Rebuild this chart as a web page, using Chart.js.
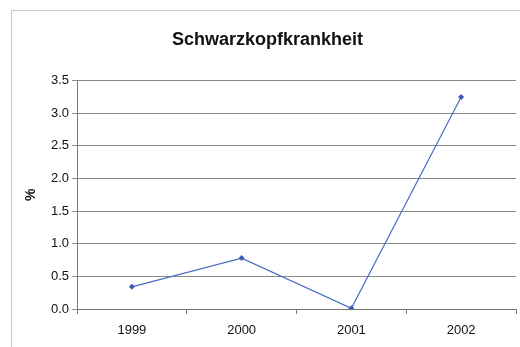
<!DOCTYPE html>
<html>
<head>
<meta charset="utf-8">
<script src="https://cdn.jsdelivr.net/npm/chart.js@4"></script>
<style>
  html, body { margin: 0; padding: 0; background: #fff; }
  #wrap { position: relative; width: 520px; height: 347px; }
</style>
</head>
<body>
<div id="wrap"><canvas id="c" width="520" height="347"></canvas></div>
<script>
const years = ['1999', '2000', '2001', '2002'];
const percent = [0.34, 0.78, 0.01, 3.25];
const yTicks = [0, 0.5, 1, 1.5, 2, 2.5, 3, 3.5];

// Light outer frame around the chart
const framePlugin = {
  id: 'frame',
  beforeDraw(chart) {
    const ctx = chart.ctx;
    ctx.save();
    ctx.fillStyle = '#fff';
    ctx.fillRect(0, 0, chart.width, chart.height);
    ctx.strokeStyle = '#c8c8c8';
    ctx.lineWidth = 1;
    ctx.strokeRect(11.5, 10.5, 540, 400);
    ctx.restore();
  }
};

new Chart(document.getElementById('c'), {
  type: 'line',
  data: {
    labels: years,
    datasets: [{
      data: percent,
      borderColor: '#4a6cc4',
      backgroundColor: '#3a5cb8',
      borderWidth: 1.2,
      pointStyle: 'rectRot',
      pointRadius: 3,
      pointBorderWidth: 0,
      tension: 0
    }]
  },
  options: {
    responsive: false,
    animation: false,
    layout: { padding: { left: 16, top: 0, right: 1, bottom: 0 } },
    plugins: {
      legend: { display: false },
      tooltip: { enabled: false },
      title: {
        display: true,
        text: 'Schwarzkopfkrankheit',
        color: '#111',
        font: { family: 'Liberation Sans, Arial, sans-serif', size: 18, weight: 'bold' },
        padding: { top: 29, bottom: 30 }
      }
    },
    scales: {
      x: {
        offset: true,
        grid: { offset: true, drawOnChartArea: false, drawTicks: true, tickLength: 5, color: '#777' },
        border: { display: true, color: '#777' },
        ticks: {
          color: '#111',
          padding: 10,
          font: { family: 'Liberation Sans, Arial, sans-serif', size: 13, lineHeight: 1 }
        }
      },
      y: {
        min: 0,
        max: 3.5,
        afterFit: s => { s.width = 61; },
        afterBuildTicks: s => { s.ticks = yTicks.map(v => ({ value: v })); },
        grid: { color: '#8a8a8a', tickLength: 5 },
        border: { display: true, color: '#777' },
        ticks: {
          color: '#111',
          padding: 3,
          callback: v => Number(v).toFixed(1),
          font: { family: 'Liberation Sans, Arial, sans-serif', size: 13 }
        },
        title: {
          display: true,
          text: '%',
          color: '#111',
          padding: { top: 7, bottom: 0 },
          font: { family: 'Liberation Sans, Arial, sans-serif', size: 14, weight: 'bold' }
        }
      }
    }
  },
  plugins: [framePlugin]
});
</script>
</body>
</html>
